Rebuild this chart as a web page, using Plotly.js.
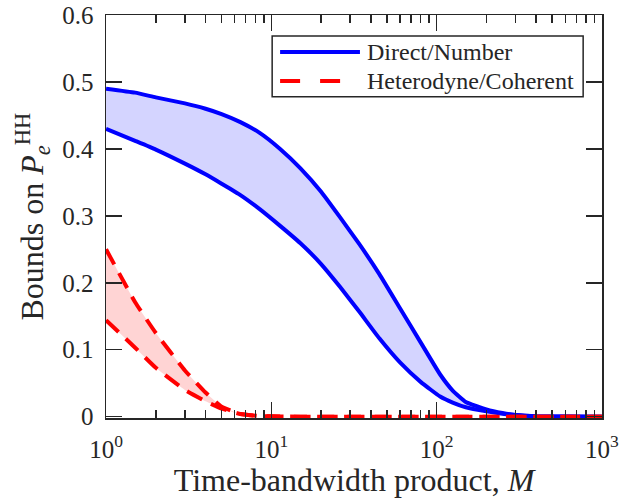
<!DOCTYPE html>
<html>
<head>
<meta charset="utf-8">
<script src="https://cdn.plot.ly/plotly-3.0.1.min.js"></script>
<style>html,body{margin:0;padding:0;background:#fff;}#chart{width:619px;height:498px;}</style>
</head>
<body>
<div id="chart"></div>
<script>
// Time-bandwidth product M
const M = [1, 1.5, 2, 3, 4, 5, 6.5, 8.5, 11.3, 15, 20, 26, 34, 45, 60, 80, 105, 125, 150, 200, 250, 300, 400, 600, 1000];
// Direct/Number bounds
const directUpper = [0.490, 0.484, 0.477, 0.468, 0.460, 0.452, 0.440, 0.424, 0.400, 0.371, 0.336, 0.298, 0.258, 0.213, 0.162, 0.111, 0.063, 0.039, 0.022, 0.011, 0.0055, 0.0025, 0.0006, 0.0001, 0];
const directLower = [0.430, 0.412, 0.399, 0.378, 0.362, 0.348, 0.331, 0.310, 0.285, 0.259, 0.228, 0.194, 0.157, 0.117, 0.081, 0.052, 0.030, 0.021, 0.014, 0.008, 0.0045, 0.0025, 0.0006, 0.0001, 0];
// Heterodyne/Coherent bounds
const coherentUpper = [0.250, 0.171, 0.125, 0.069, 0.036, 0.015, 0.004, 0.001, 0.0002, 0, 0, 0, 0, 0, 0, 0, 0, 0, 0, 0, 0, 0, 0, 0, 0];
const coherentLower = [0.144, 0.103, 0.073, 0.040, 0.023, 0.012, 0.004, 0.001, 0.0002, 0, 0, 0, 0, 0, 0, 0, 0, 0, 0, 0, 0, 0, 0, 0, 0];
// Axis ticks
const xTickVals = [1, 10, 100, 1000];
const xTickText = ['10<sup>0</sup>', '10<sup>1</sup>', '10<sup>2</sup>', '10<sup>3</sup>'];
const yTickVals = [0, 0.1, 0.2, 0.3, 0.4, 0.5, 0.6];
const seriesNames = ['Direct/Number', 'Heterodyne/Coherent'];

const BLUE = '#0000ff', RED = '#ff0000', AX = '#262626';
const FONT = '"Liberation Serif", "Times New Roman", "DejaVu Serif", Times, serif';

const minorVals = [];
for (let d = 1; d <= 100; d *= 10) for (let k = 2; k <= 9; k++) minorVals.push(k * d);

const lineStyle = (c, dash) => ({color: c, width: 4, dash: dash || 'solid', shape: 'spline', smoothing: 0.4});

const traces = [
  {x: M, y: directLower, mode: 'lines', line: lineStyle(BLUE), showlegend: false, hoverinfo: 'skip'},
  {x: M, y: directUpper, mode: 'lines', fill: 'tonexty', fillcolor: 'rgba(0,0,255,0.17)', line: lineStyle(BLUE), name: seriesNames[0], showlegend: false},
  {x: M, y: coherentLower, mode: 'lines', line: lineStyle(RED, '17px,10px'), showlegend: false, hoverinfo: 'skip'},
  {x: M, y: coherentUpper, mode: 'lines', fill: 'tonexty', fillcolor: 'rgba(255,0,0,0.17)', line: lineStyle(RED, '17px,10px'), name: seriesNames[1], showlegend: false}
];

// legend geometry in paper coords
const lgX0 = 0.335, lgX1 = 0.962, lgY0 = 0.797, lgY1 = 0.948;
const row1 = 0.908, row2 = 0.836, sX0 = 0.351, sX1 = 0.512, tX = 0.522;

const layout = {
  width: 619, height: 498,
  margin: {l: 106, r: 17, t: 15, b: 80},
  paper_bgcolor: '#fff', plot_bgcolor: '#fff',
  font: {family: FONT, color: AX},
  showlegend: false,
  xaxis: {
    type: 'log', range: [-0.0003, 3.0003],
    tickmode: 'array', tickvals: xTickVals, ticktext: xTickText,
    ticks: 'inside', ticklen: 16, tickwidth: 1.5, tickcolor: AX,
    minor: {tickmode: 'array', tickvals: minorVals, ticks: 'inside', ticklen: 8, tickwidth: 1.5, tickcolor: AX, showgrid: false},
    showline: true, linecolor: AX, linewidth: 1.5, mirror: 'ticks',
    showgrid: false, zeroline: false,
    tickfont: {family: FONT, size: 25, color: AX},
    ticklabelstandoff: 8, ticklabeloverflow: 'allow',
    title: {text: 'Time-bandwidth product, <i>M</i>', font: {family: FONT, size: 32, color: AX}, standoff: 1}
  },
  yaxis: {
    range: [-0.002, 0.6],
    tickmode: 'array', tickvals: yTickVals,
    ticks: 'inside', ticklen: 16, tickwidth: 1.5, tickcolor: AX,
    showline: true, linecolor: AX, linewidth: 1.5, mirror: 'ticks',
    showgrid: false, zeroline: false,
    tickfont: {family: FONT, size: 25, color: AX},
    ticklabelstandoff: 6
  },
  shapes: [
    {type: 'rect', xref: 'paper', yref: 'paper', x0: lgX0, x1: lgX1, y0: lgY0, y1: lgY1, fillcolor: '#fff', line: {color: AX, width: 1.5}, layer: 'above'},
    {type: 'line', xref: 'paper', yref: 'paper', x0: sX0, x1: sX1, y0: row1, y1: row1, line: {color: BLUE, width: 4}, layer: 'above'},
    {type: 'line', xref: 'paper', yref: 'paper', x0: sX0, x1: sX1, y0: row2, y1: row2, line: {color: RED, width: 4, dash: '20px,20px'}, layer: 'above'}
  ],
  annotations: [
    {xref: 'paper', yref: 'paper', x: tX, y: row1, xanchor: 'left', yanchor: 'middle', text: seriesNames[0], showarrow: false, font: {family: FONT, size: 24, color: AX}},
    {xref: 'paper', yref: 'paper', x: tX, y: row2, xanchor: 'left', yanchor: 'middle', text: seriesNames[1], showarrow: false, font: {family: FONT, size: 24, color: AX}},
    {xref: 'paper', yref: 'paper', x: -0.148, y: 0.236, xanchor: 'center', yanchor: 'bottom', textangle: -90, text: 'Bounds on <i>P</i><sub><i>e</i></sub><sup>HH</sup>', showarrow: false, font: {family: FONT, size: 32, color: AX}}
  ]
};

Plotly.newPlot('chart', traces, layout, {staticPlot: true, displayModeBar: false});
</script>
</body>
</html>
